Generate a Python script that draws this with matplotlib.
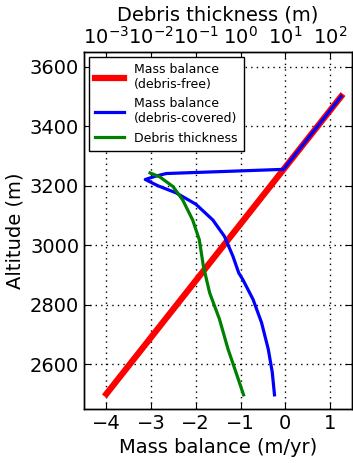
import matplotlib
matplotlib.use("Agg")
import matplotlib.pyplot as plt

# Debris-free mass balance (m/yr) vs altitude (m)
alt_free = [2500, 3500]
mb_free = [-4.0, 1.25]

# Debris-covered mass balance
alt_cov = [3500, 3255, 3241, 3232, 3221, 3200, 3176, 3138, 3085, 3030, 2963,
           2907, 2885, 2818, 2740, 2651, 2573, 2497]
mb_cov = [1.25, -0.04, -2.66, -2.9, -3.13, -2.85, -2.44, -2.0, -1.62, -1.36,
          -1.17, -1.04, -0.95, -0.72, -0.53, -0.38, -0.29, -0.24]

# Debris thickness (m)
alt_deb = [3243, 3230, 3197, 3152, 3085, 3018, 2929, 2840, 2751, 2651, 2573, 2497]
deb_thick = [0.0095, 0.0155, 0.031, 0.051, 0.085, 0.12, 0.148, 0.204, 0.339,
             0.525, 0.79, 1.17]

plt.rcParams["font.family"] = "DejaVu Sans"
plt.rcParams["xtick.direction"] = "in"
plt.rcParams["ytick.direction"] = "in"

fig = plt.figure(figsize=(3.53, 4.63), dpi=100)
ax = fig.add_axes([0.238, 0.117, 0.76, 0.771])

l1, = ax.plot(mb_free, alt_free, color="r", lw=4.5, label="Mass balance\n(debris-free)")
l2, = ax.plot(mb_cov, alt_cov, color="b", lw=2.3, label="Mass balance\n(debris-covered)")

ax.set_xlim(-4.5, 1.5)
ax.set_ylim(2450, 3650)
ax.set_xticks([-4, -3, -2, -1, 0, 1])
ax.set_yticks([2600, 2800, 3000, 3200, 3400, 3600])
ax.grid(True, color="k", linestyle=(0, (1, 3)), linewidth=1.0)
ax.tick_params(labelsize=14, top=False, right=True, length=5, width=0.8)
ax.set_xlabel("Mass balance (m/yr)", fontsize=14)
ax.set_ylabel("Altitude (m)", fontsize=14)

ax2 = ax.twiny()
l3, = ax2.plot(deb_thick, alt_deb, color="g", lw=2.3, label="Debris thickness")
ax2.set_xscale("log")
ax2.set_xlim(10 ** -3.5, 10 ** 2.5)
ax2.set_xticks([1e-3, 1e-2, 1e-1, 1e0, 1e1, 1e2])
ax2.tick_params(labelsize=14, length=5, width=0.8, pad=3)
ax2.tick_params(which="minor", length=2.5, width=0.6)
ax2.set_xlabel("Debris thickness (m)", fontsize=14)

for a in (ax, ax2):
    for s in a.spines.values():
        s.set_linewidth(1.0)

leg = ax2.legend(handles=[l1, l2, l3], loc="upper left", fontsize=9,
                 fancybox=False, framealpha=1, edgecolor="k",
                 borderaxespad=0.4, borderpad=0.5, handlelength=2.3,
                 labelspacing=0.5)
leg.get_frame().set_linewidth(1.0)

fig.savefig("out.png", dpi=100)
